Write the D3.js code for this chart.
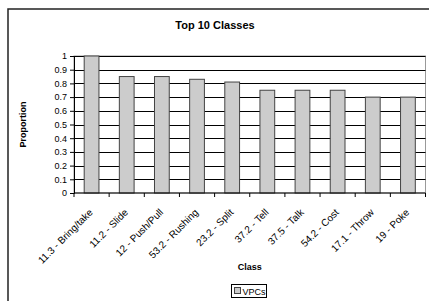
<!DOCTYPE html>
<html lang="en">
<head>
  <meta charset="UTF-8" />
  <title>Top 10 Classes</title>
  <script src="https://d3js.org/d3.v7.min.js"></script>
  <style>
    body { margin: 0; background: #fff; }
    svg { display: block; font-family: 'Liberation Sans', Arial, sans-serif; }
    svg text { font-family: 'Liberation Sans', Arial, sans-serif; fill: #000; }
    .tick text { font-size: 9px; }
  </style>
</head>
<body>
  <svg id="chart"></svg>
  <script>
    // Chart data
    const classes = ["11.3 - Bring/take", "11.2 - Slide", "12 - Push/Pull", "53.2 - Rushing", "23.2 - Split",
                     "37.2 - Tell", "37.5 - Talk", "54.2 - Cost", "17.1 - Throw", "19 - Poke"];
    const proportions = [1.0, 0.85, 0.85, 0.83, 0.81, 0.75, 0.75, 0.75, 0.70, 0.70];
    const yTicks = [0, 0.1, 0.2, 0.3, 0.4, 0.5, 0.6, 0.7, 0.8, 0.9, 1];
    const seriesName = "VPCs";

    const width = 429, height = 301;
    const plot = { left: 74, right: 425.5, top: 56, bottom: 193 };

    const svg = d3.select('#chart').attr('width', width).attr('height', height);

    // Outer chart frame
    svg.append('rect')
      .attr('x', 8).attr('y', 9)
      .attr('width', 440).attr('height', 310)
      .attr('fill', 'none').attr('stroke', '#222').attr('stroke-width', 1.5);

    const x = d3.scaleBand().domain(classes).range([plot.left, plot.right]);
    const y = d3.scaleLinear().domain([0, 1]).range([plot.bottom, plot.top]);

    // Plot area border
    svg.append('rect')
      .attr('x', plot.left).attr('y', plot.top)
      .attr('width', plot.right - plot.left).attr('height', plot.bottom - plot.top)
      .attr('fill', 'none').attr('stroke', '#999').attr('stroke-width', 1);

    // Gridlines
    svg.append('g')
      .selectAll('line')
      .data(yTicks.filter(d => d > 0))
      .join('line')
      .attr('x1', plot.left).attr('x2', plot.right)
      .attr('y1', d => Math.round(y(d)) + 0.5).attr('y2', d => Math.round(y(d)) + 0.5)
      .attr('stroke', '#000').attr('stroke-width', 1);

    // Bars
    const barW = x.bandwidth() * 0.42;
    svg.append('g')
      .selectAll('rect')
      .data(classes)
      .join('rect')
      .attr('x', (d) => x(d) + (x.bandwidth() - barW) / 2)
      .attr('y', (d, i) => y(proportions[i]))
      .attr('width', barW)
      .attr('height', (d, i) => y(0) - y(proportions[i]))
      .attr('fill', '#cccccc')
      .attr('stroke', '#444').attr('stroke-width', 1);

    // Y axis
    const yAxis = svg.append('g')
      .attr('transform', `translate(${plot.left},0)`)
      .call(d3.axisLeft(y).tickValues(yTicks).tickFormat(d3.format('')).tickSize(4).tickPadding(3))
      .attr('font-family', null);
    yAxis.select('.domain').attr('stroke', '#000');
    yAxis.selectAll('.tick line').attr('stroke', '#000');

    // X axis with ticks at category boundaries
    const xAxisG = svg.append('g').attr('transform', `translate(0,${plot.bottom})`);
    xAxisG.append('line')
      .attr('x1', plot.left).attr('x2', plot.right)
      .attr('stroke', '#000');
    xAxisG.selectAll('line.bt')
      .data(d3.range(classes.length + 1))
      .join('line')
      .attr('class', 'bt')
      .attr('x1', i => plot.left + i * x.step()).attr('x2', i => plot.left + i * x.step())
      .attr('y1', 0).attr('y2', 4)
      .attr('stroke', '#000');
    xAxisG.selectAll('text')
      .data(classes)
      .join('text')
      .attr('transform', d => `translate(${x(d) + x.bandwidth() / 2 - 3},${15}) rotate(-45)`)
      .attr('text-anchor', 'end')
      .attr('font-size', 10)
      .attr('dy', '0.7em')
      .text(d => d);

    // Titles
    svg.append('text')
      .attr('x', 215).attr('y', 29)
      .attr('text-anchor', 'middle')
      .attr('font-size', 11).attr('font-weight', 'bold')
      .text('Top 10 Classes');

    svg.append('text')
      .attr('transform', `translate(26,${(plot.top + plot.bottom) / 2}) rotate(-90)`)
      .attr('text-anchor', 'middle')
      .attr('font-size', 9).attr('font-weight', 'bold')
      .text('Proportion');

    svg.append('text')
      .attr('x', (plot.left + plot.right) / 2).attr('y', 270)
      .attr('text-anchor', 'middle')
      .attr('font-size', 9).attr('font-weight', 'bold')
      .text('Class');

    // Legend
    const legend = svg.append('g').attr('transform', 'translate(231,284)');
    legend.append('rect')
      .attr('x', 0.5).attr('y', 0.5).attr('width', 35).attr('height', 13)
      .attr('fill', '#fff').attr('stroke', '#000');
    legend.append('rect')
      .attr('x', 3.5).attr('y', 3.5).attr('width', 6).attr('height', 6)
      .attr('fill', '#cccccc').attr('stroke', '#444');
    legend.append('text')
      .attr('x', 11.5).attr('y', 10.5)
      .attr('font-size', 9)
      .text(seriesName);
  </script>
</body>
</html>
